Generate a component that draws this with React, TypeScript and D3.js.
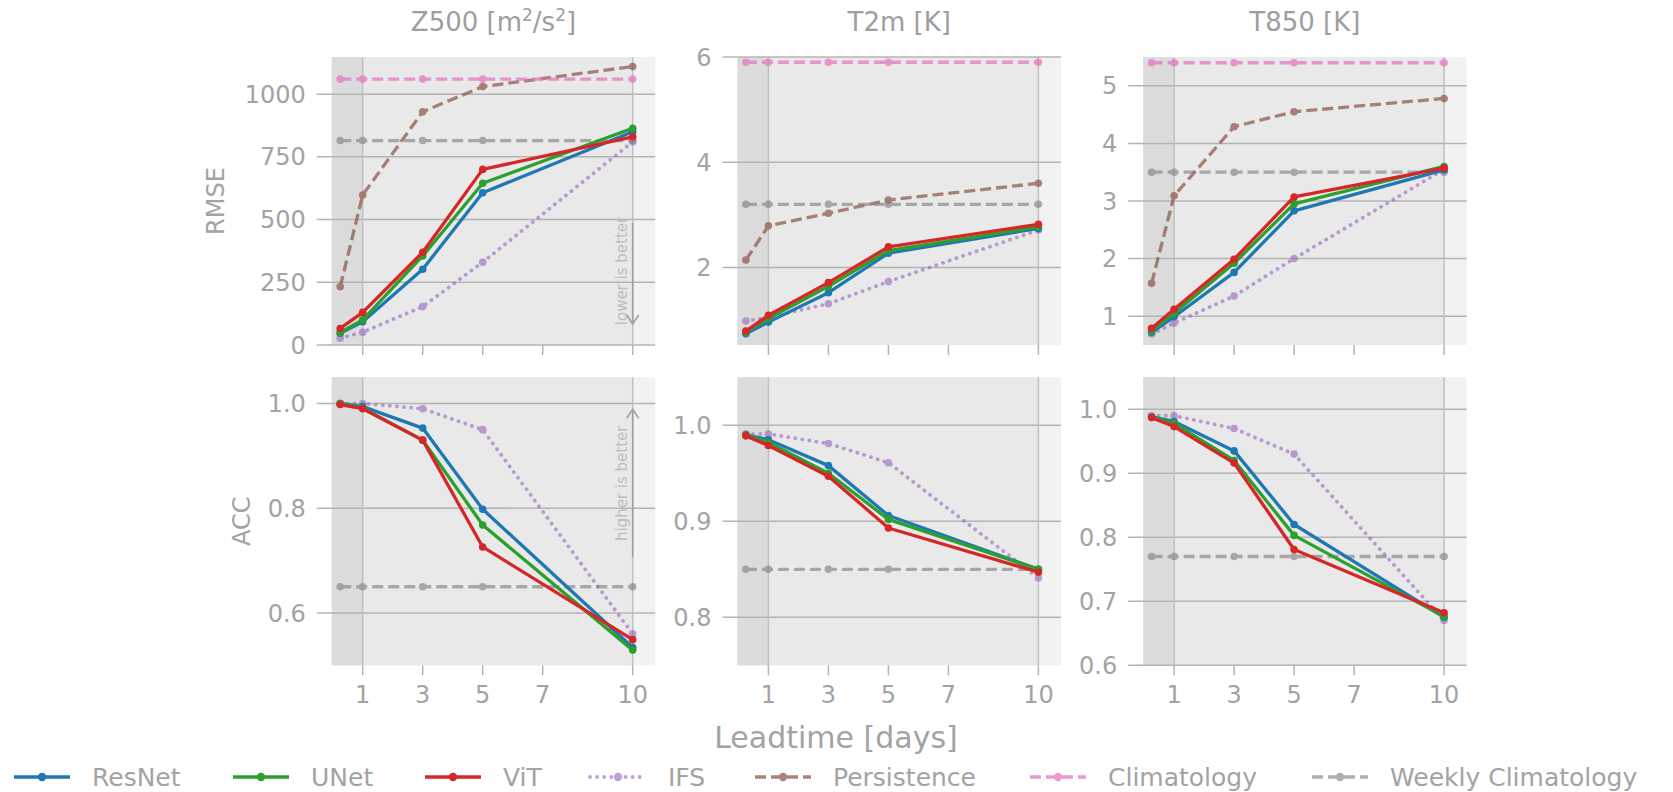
import React from 'react';
import * as d3 from 'd3';

// ---------- data ----------
const leadtimes = [0.25, 1, 3, 5, 10];
const xTicks = [1, 3, 5, 7, 10];
const variableNames = ['Z500', 'T2m', 'T850'];
const metricNames = ['RMSE', 'ACC'];
const seriesNames = ['ResNet', 'UNet', 'ViT', 'IFS', 'Persistence', 'Climatology', 'Weekly Climatology'];

// RMSE, rows = Z500, T2m, T850
const rmseResNet = [[47, 93, 302, 607, 850], [0.74, 0.96, 1.52, 2.27, 2.74], [0.72, 0.99, 1.76, 2.83, 3.54]];
const rmseUNet = [[50, 100, 355, 645, 864], [0.77, 1.03, 1.64, 2.32, 2.77], [0.74, 1.05, 1.92, 2.95, 3.6]];
const rmseViT = [[66, 130, 370, 700, 830], [0.79, 1.09, 1.71, 2.39, 2.82], [0.79, 1.12, 1.99, 3.07, 3.57]];
const rmseIFS = [[27, 51, 153, 330, 810], [0.98, 1.05, 1.31, 1.73, 2.71], [0.69, 0.88, 1.35, 2.0, 3.55]];
const rmsePersistence = [[232, 598, 930, 1030, 1110], [2.14, 2.79, 3.03, 3.28, 3.6], [1.57, 3.09, 4.29, 4.55, 4.78]];
const rmseClimatology = [[1060, 1060, 1060, 1060, 1060], [5.9, 5.9, 5.9, 5.9, 5.9], [5.4, 5.4, 5.4, 5.4, 5.4]];
const rmseWeekly = [[815, 815, 815, 815, 815], [3.2, 3.2, 3.2, 3.2, 3.2], [3.5, 3.5, 3.5, 3.5, 3.5]];

// ACC, rows = Z500, T2m, T850
const accResNet = [[1.0, 0.994, 0.953, 0.798, 0.534], [0.99, 0.985, 0.958, 0.906, 0.85], [0.988, 0.981, 0.935, 0.82, 0.675]];
const accUNet = [[1.0, 0.991, 0.93, 0.768, 0.529], [0.99, 0.982, 0.95, 0.902, 0.85], [0.988, 0.978, 0.92, 0.803, 0.676]];
const accViT = [[0.998, 0.99, 0.93, 0.726, 0.549], [0.989, 0.979, 0.947, 0.893, 0.847], [0.987, 0.973, 0.916, 0.781, 0.682]];
const accIFS = [[1.0, 1.0, 0.99, 0.95, 0.56], [0.991, 0.991, 0.981, 0.961, 0.841], [0.99, 0.99, 0.97, 0.93, 0.67]];
const accWeekly = [[0.65, 0.65, 0.65, 0.65, 0.65], [0.85, 0.85, 0.85, 0.85, 0.85], [0.77, 0.77, 0.77, 0.77, 0.77]];

const rmseDomains = [[0, 1148], [0.525, 6.0], [0.5, 5.5]];
const rmseTicks = [[0, 250, 500, 750, 1000], [2, 4, 6], [1, 2, 3, 4, 5]];
const accDomains = [[0.5, 1.05], [0.75, 1.05], [0.6, 1.05]];
const accTicks = [[0.6, 0.8, 1.0], [0.8, 0.9, 1.0], [0.6, 0.7, 0.8, 0.9, 1.0]];

// ---------- styles ----------
const FONT = 'DejaVu Sans, sans-serif';
const TXT = '#a3a3a3';
const styles: Record<string, { color: string; dash: string | null; opacity: number; width: number; r: number }> = {
  ResNet: { color: '#1f77b4', dash: null, opacity: 1, width: 3.3, r: 3.8 },
  UNet: { color: '#2ca02c', dash: null, opacity: 1, width: 3.3, r: 3.8 },
  ViT: { color: '#d62728', dash: null, opacity: 1, width: 3.3, r: 3.8 },
  IFS: { color: '#9467bd', dash: '0.1 7', opacity: 0.6, width: 3.8, r: 3.8 },
  Persistence: { color: '#8c564b', dash: '11 5', opacity: 0.72, width: 3.3, r: 3.8 },
  Climatology: { color: '#e377c2', dash: '11 5', opacity: 0.75, width: 3.3, r: 3.8 },
  'Weekly Climatology': { color: '#7f7f7f', dash: '11 5', opacity: 0.62, width: 3.3, r: 3.8 },
};

const X_DOMAIN = [-0.03, 10.75];
const colLeft = [331.8, 737.5, 1143.2];
const panelW = 323.4;
const rowTop = [57, 377.3];
const panelH = 288;

function Series({ name, values, x, y }: any) {
  const st = styles[name];
  const line = d3.line<number>().x((_, i) => x(leadtimes[i])).y((v) => y(v));
  return (
    <g opacity={st.opacity}>
      <path
        d={line(values) || ''}
        fill="none"
        stroke={st.color}
        strokeWidth={st.width}
        strokeDasharray={st.dash || undefined}
        strokeLinecap={name === 'IFS' ? 'round' : 'butt'}
        strokeLinejoin="round"
      />
      {values.map((v: number, i: number) => (
        <circle key={i} cx={x(leadtimes[i])} cy={y(v)} r={st.r} fill={st.color} />
      ))}
    </g>
  );
}

function Panel({ row, col }: { row: number; col: number }) {
  const left = colLeft[col];
  const top = rowTop[row];
  const x = d3.scaleLinear().domain(X_DOMAIN).range([left, left + panelW]);
  const domain = row === 0 ? rmseDomains[col] : accDomains[col];
  const ticks = row === 0 ? rmseTicks[col] : accTicks[col];
  const y = d3.scaleLinear().domain(domain).range([top + panelH, top]);
  const fmt = row === 0 ? d3.format('d') : d3.format('.1f');
  const bottom = top + panelH;

  const series: [string, number[]][] =
    row === 0
      ? [
          ['ResNet', rmseResNet[col]],
          ['UNet', rmseUNet[col]],
          ['ViT', rmseViT[col]],
          ['IFS', rmseIFS[col]],
          ['Persistence', rmsePersistence[col]],
          ['Climatology', rmseClimatology[col]],
          ['Weekly Climatology', rmseWeekly[col]],
        ]
      : [
          ['ResNet', accResNet[col]],
          ['UNet', accUNet[col]],
          ['ViT', accViT[col]],
          ['IFS', accIFS[col]],
          ['Weekly Climatology', accWeekly[col]],
        ];
  const drawOrder = ['IFS', 'Persistence', 'Climatology', 'Weekly Climatology', 'ResNet', 'UNet', 'ViT'];
  const ordered = drawOrder
    .map((n) => series.find((s) => s[0] === n))
    .filter(Boolean) as [string, number[]][];

  const clipId = `clip-${row}-${col}`;
  return (
    <g>
      <defs>
        <clipPath id={clipId}>
          <rect x={left} y={top - 4} width={panelW} height={panelH + 4} />
        </clipPath>
      </defs>
      {/* background regions */}
      <rect x={left} y={top} width={panelW} height={panelH} fill="#f2f2f2" />
      <rect x={left} y={top} width={x(10) - left} height={panelH} fill="#e9e9e9" />
      <rect x={left} y={top} width={x(1) - left} height={panelH} fill="#dcdcdc" />
      {/* gridlines + y ticks */}
      {ticks.map((t) => (
        <g key={t}>
          <line x1={left - 15} x2={left + panelW} y1={y(t)} y2={y(t)} stroke="#b4b4b4" strokeWidth={1.5} />
          <text
            x={left - 26}
            y={y(t)}
            dy="0.36em"
            textAnchor="end"
            fontSize={24}
            fill={TXT}
            fontFamily={FONT}
          >
            {fmt(t)}
          </text>
        </g>
      ))}
      {/* vertical markers at day 1 and day 10 */}
      {[1, 10].map((d) => (
        <line key={d} x1={x(d)} x2={x(d)} y1={top} y2={bottom} stroke="#c0c0c0" strokeWidth={1.5} />
      ))}
      {/* x ticks */}
      {xTicks.map((t) => (
        <g key={t}>
          <line x1={x(t)} x2={x(t)} y1={bottom} y2={bottom + 10} stroke="#b4b4b4" strokeWidth={1.5} />
          {row === 1 && (
            <text x={x(t)} y={bottom + 38} textAnchor="middle" fontSize={24} fill={TXT} fontFamily={FONT}>
              {t}
            </text>
          )}
        </g>
      ))}
      <g clipPath={`url(#${clipId})`}>
        {ordered.map(([n, v]) => (
          <Series key={n} name={n} values={v} x={x} y={y} />
        ))}
      </g>
      {/* annotation */}
      {col === 0 && row === 0 && (
        <g>
          <text
            transform={`translate(${left + 295},${top + 214}) rotate(-90)`}
            textAnchor="middle"
            fontSize={15}
            fill="#bdbdbd"
            fontFamily={FONT}
          >
            lower is better
          </text>
          <line x1={x(10)} x2={x(10)} y1={top + 166} y2={top + 266} stroke="#a0a0a0" strokeWidth={1.6} />
          <path
            d={`M${x(10) - 6},${top + 258} L${x(10)},${top + 267} L${x(10) + 6},${top + 258}`}
            fill="none"
            stroke="#a0a0a0"
            strokeWidth={1.6}
          />
        </g>
      )}
      {col === 0 && row === 1 && (
        <g>
          <text
            transform={`translate(${left + 295},${top + 106}) rotate(-90)`}
            textAnchor="middle"
            fontSize={15}
            fill="#bdbdbd"
            fontFamily={FONT}
          >
            higher is better
          </text>
          <line x1={x(10)} x2={x(10)} y1={top + 33} y2={top + 180} stroke="#a0a0a0" strokeWidth={1.6} />
          <path
            d={`M${x(10) - 6},${top + 41} L${x(10)},${top + 32} L${x(10) + 6},${top + 41}`}
            fill="none"
            stroke="#a0a0a0"
            strokeWidth={1.6}
          />
        </g>
      )}
      {/* titles */}
      {row === 0 && (
        <text x={left + panelW / 2} y={31} textAnchor="middle" fontSize={26} fill="#9e9e9e" fontFamily={FONT}>
          {col === 0 ? (
            <>
              {variableNames[0]} [m
              <tspan dy={-10} fontSize={17}>2</tspan>
              <tspan dy={10}>/s</tspan>
              <tspan dy={-10} fontSize={17}>2</tspan>
              <tspan dy={10}>]</tspan>
            </>
          ) : (
            `${variableNames[col]} [K]`
          )}
        </text>
      )}
      {col === 0 && (
        <text
          transform={`translate(${row === 0 ? 224 : 250},${top + panelH / 2}) rotate(-90)`}
          textAnchor="middle"
          fontSize={24}
          fill={TXT}
          fontFamily={FONT}
        >
          {metricNames[row]}
        </text>
      )}
    </g>
  );
}

const legendStarts = [14, 233, 425, 590, 755, 1030, 1312];

function Legend() {
  const yL = 777;
  return (
    <g>
      {seriesNames.map((n, i) => {
        const st = styles[n];
        const x0 = legendStarts[i];
        return (
          <g key={n}>
            <g opacity={st.opacity}>
              <line
                x1={x0}
                x2={x0 + 56}
                y1={yL}
                y2={yL}
                stroke={st.color}
                strokeWidth={st.width}
                strokeDasharray={st.dash || undefined}
                strokeLinecap={n === 'IFS' ? 'round' : 'butt'}
              />
              <circle cx={x0 + 28} cy={yL} r={4.2} fill={st.color} />
            </g>
            <text x={x0 + 78} y={yL} dy="0.36em" fontSize={25} fill={TXT} fontFamily={FONT}>
              {n}
            </text>
          </g>
        );
      })}
    </g>
  );
}

export default function App() {
  return (
    <svg
      width={1673}
      height={792}
      style={{ position: 'absolute', left: 0, top: 0, background: '#fff' }}
    >
      <rect width={1673} height={792} fill="#fff" />
      {[0, 1].map((r) => [0, 1, 2].map((c) => <Panel key={`${r}-${c}`} row={r} col={c} />))}
      <text x={836} y={748} textAnchor="middle" fontSize={30} fill={TXT} fontFamily={FONT}>
        Leadtime [days]
      </text>
      <Legend />
    </svg>
  );
}
